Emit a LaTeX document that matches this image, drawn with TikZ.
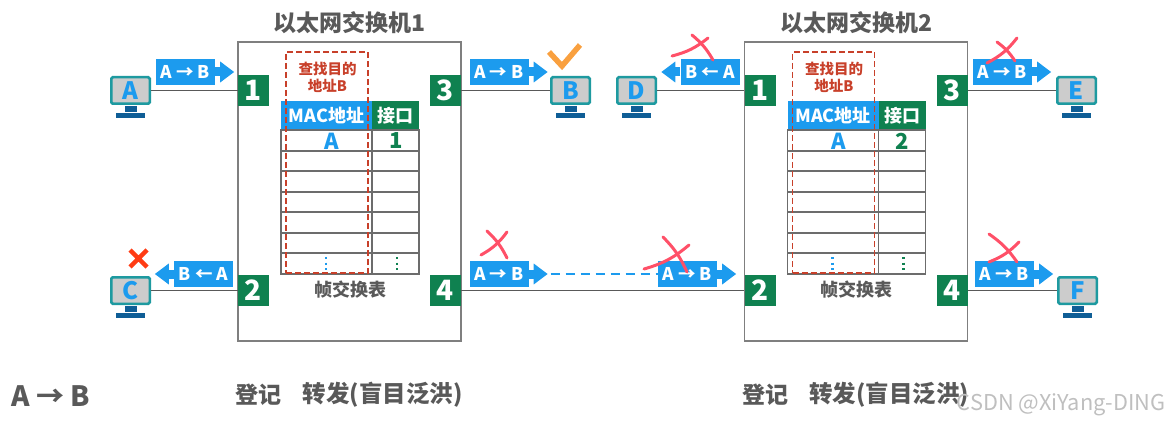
\documentclass[tikz,border=0pt]{standalone}
\usepackage{fontspec}
\setmainfont{Noto Sans CJK SC}
\usepackage{tikz}
\usetikzlibrary{positioning,arrows.meta}
\definecolor{frameblue}{HTML}{1C9BEE}
\definecolor{portgreen}{HTML}{0F8150}
\definecolor{hostteal}{HTML}{1E9AA0}
\definecolor{hostbase}{HTML}{0F5E96}
\definecolor{lookred}{HTML}{C8402A}
\definecolor{textgray}{HTML}{595959}
\definecolor{linegray}{HTML}{7F7F7F}
\definecolor{penred}{HTML}{FF5068}
\definecolor{okorange}{HTML}{F9A03F}
\definecolor{dropred}{HTML}{FF3C14}
\newcommand{\Fs}[1]{\fontsize{#1}{1.25\dimexpr #1pt\relax}\selectfont\bfseries}
% one switch: prefix, x shift, title, port number stored in the table
\newcommand{\Switch}[4]{
\begin{scope}[xshift=#2pt]
\node[swbox] (#1) at (349.5,191.5) {};
\node[head,fill=frameblue,minimum width=91] (#1mac) at (326.5,115.5) {MAC地址};
\node[head,fill=portgreen,right=0pt of #1mac,minimum width=47] (#1ifc) {接口};
\node[cell,text=frameblue] (#1a) at (332,141) {A};
\node[cell,text=portgreen] (#1n) at (396,141) {#4};
\draw[tabline] (281,130) rectangle (419,274) (372,130) -- (372,274)
  (281,151) -- (419,151) (281,171) -- (419,171) (281,192) -- (419,192)
  (281,212) -- (419,212) (281,233) -- (419,233) (281,253) -- (419,253);
\draw[dots,draw=frameblue] (326,257) -- (326,272);
\draw[dots,draw=portgreen] (397,257) -- (397,272);
\node[lookup] (#1look) at (327,162.5) {};
\node[text=lookred,align=center,font=\Fs{14.5}] (#1find) at (327.5,77) {查找目的\\[-1pt]地址B};
\node[text=textgray,font=\Fs{18}] (#1tab) at (350,290) {帧交换表};
\node[text=textgray,font=\Fs{23}] (#1title) at (349.5,23) {#3};
\node[port] (#1p1) at (253.5,90.5) {1};
\node[port] (#1p2) at (253.5,290.5) {2};
\node[port] (#1p3) at (445.5,90.5) {3};
\node[port] (#1p4) at (445.5,290.5) {4};
\node[text=textgray,font=\Fs{23}] (#1reg) at (258.5,394.5) {登记};
\node[text=textgray,font=\Fs{23.5}] (#1fwd) at (382.5,394.5) {转发(盲目泛洪)};
\end{scope}
}
% one host: name, x, y, letter
\newcommand{\Host}[4]{
\node[screen] (#1) at (#2,#3) {#4};
\node[neck,below=1.2pt of #1] (#1neck) {};
\node[base,below=0pt of #1neck] (#1base) {};
}
\newcommand{\PenCross}[8]{
\draw[pen] (#1,#2) to[bend right=12] (#3,#4);
\draw[pen] (#5,#6) to[bend left=10] (#7,#8);
}

\begin{document}
\begin{tikzpicture}[x=1pt,y=-1pt,>=Stealth,
  swbox/.style={draw=linegray,line width=1.2pt,minimum width=223,minimum height=299,inner sep=0},
  port/.style={fill=portgreen,text=white,minimum size=31,inner sep=0,font=\Fs{28}},
  head/.style={text=white,minimum height=29,inner sep=0,font=\Fs{18}},
  cell/.style={inner sep=0,font=\Fs{22}},
  tabline/.style={draw=linegray!85!black,line width=1.1pt},
  dots/.style={line width=2.2pt,dash pattern=on 2.2pt off 3.4pt},
  lookup/.style={draw=lookred,dash pattern=on 6pt off 3pt,line width=1.4pt,minimum width=82,minimum height=221,inner sep=0},
  screen/.style={draw=hostteal,fill=black!20,line width=2.5pt,rounded corners=1.5pt,minimum width=38.5,minimum height=26.5,inner sep=0,text=frameblue,font=\Fs{24}},
  neck/.style={fill=hostbase,minimum width=12,minimum height=6,inner sep=0},
  base/.style={fill=hostbase,minimum width=29,minimum height=5,inner sep=0},
  wire/.style={draw=black!65,line width=1.7pt},
  frame/.style={fill=frameblue,text=white,minimum width=59,minimum height=26,inner sep=0,font=\Fs{17.5}},
  framearrow/.style={draw=frameblue,line width=9pt,-{Triangle[length=14pt,width=20pt]}},
  pen/.style={draw=penred,line width=3pt,line cap=round}]
\useasboundingbox (0,0) rectangle (1168,425);
\Switch{sa}{0}{以太网交换机1}{1}
\Switch{sb}{506.5}{以太网交换机2}{2}
\Host{hosta}{130.5}{90.5}{A}
\Host{hostb}{570.5}{90.5}{B}
\Host{hostc}{130.5}{290.5}{C}
\Host{hostd}{636.5}{90.5}{D}
\Host{hoste}{1076.5}{90.5}{E}
\Host{hostf}{1077.5}{290.5}{F}
\draw[wire] (hosta) -- (sap1);
\draw[wire] (sap3) -- (hostb);
\draw[wire] (hostc) -- (sap2);
\draw[wire] (sap4) -- (sbp2);
\draw[wire] (hostd) -- (sbp1);
\draw[wire] (sbp3) -- (hoste);
\draw[wire] (sbp4) -- (hostf);
\node[frame] (fa) at (185.5,72) {A → B};
\draw[framearrow] (fa.east) -- ++(19,0);
\node[frame] (fb) at (499,72) {A → B};
\draw[framearrow] (fb.east) -- ++(19,0);
\node[frame] (fc) at (203.5,274) {B ← A};
\draw[framearrow] (fc.west) -- ++(-19,0);
\node[frame] (fd) at (710,72) {B ← A};
\draw[framearrow] (fd.west) -- ++(-19,0);
\node[frame] (fe) at (1002.5,72) {A → B};
\draw[framearrow] (fe.east) -- ++(19,0);
\node[frame] (ff) at (1004.5,274) {A → B};
\draw[framearrow] (ff.east) -- ++(19,0);
\node[frame] (fm) at (687.5,274) {A → B};
\draw[framearrow] (fm.east) -- ++(19,0);
\node[frame] (fl) at (499,274) {A → B};
\draw[framearrow] (fl.east) -- ++(19,0) coordinate (fltip);
\draw[draw=frameblue,line width=2pt,dash pattern=on 9pt off 6pt] ([xshift=3pt]fltip) -- (fm.west);
\draw[draw=okorange,line width=5.5pt] (549,52) -- (562,66) -- (580,45);
\draw[draw=dropred,line width=4.5pt] (130,250) -- (147,267) (147,250) -- (130,267);
\PenCross{481}{255}{507}{232}{487}{231}{507}{258}
\PenCross{672}{56}{708}{38}{692}{35}{713}{60}
\PenCross{987}{63}{1017}{38}{997}{42}{1015}{61}
\PenCross{644}{269}{689}{245}{663}{237}{687}{272}
\PenCross{989}{262}{1019}{242}{989}{234}{1017}{262}
\node[text=textgray,font=\Fs{28}] (legend) at (51,396) {A → B};
\node[text=black!25,font=\fontsize{21.8}{26}\selectfont] (mark) at (1061,405) {CSDN @XiYang-DING};
\end{tikzpicture}
\end{document}
